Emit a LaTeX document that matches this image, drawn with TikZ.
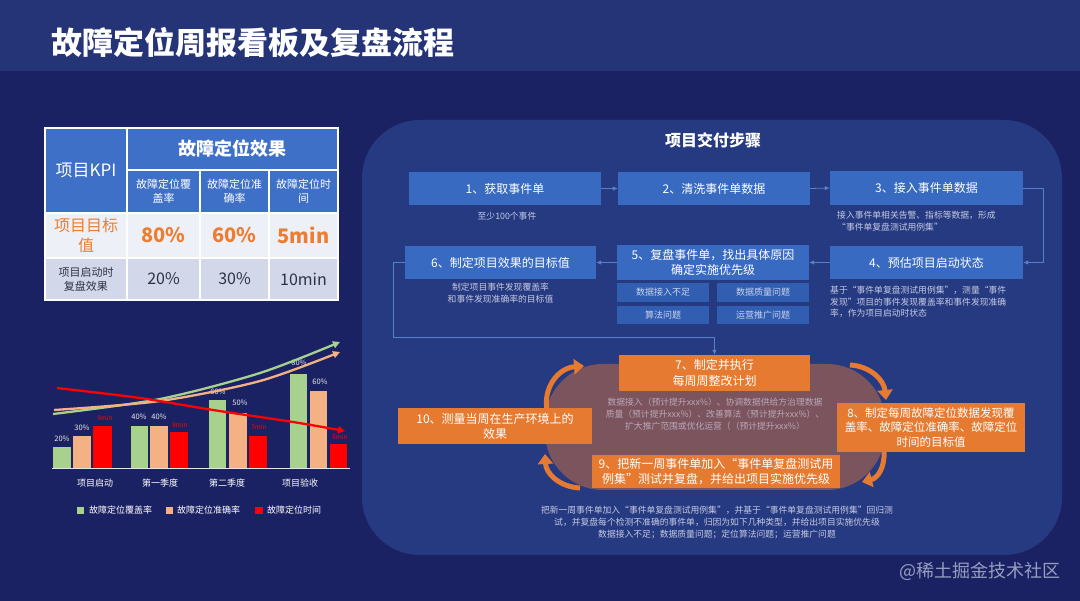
\documentclass[tikz,border=0pt]{standalone}
\usepackage{fontspec}
\setmainfont{Noto Sans CJK SC}
\usetikzlibrary{arrows.meta}
\definecolor{bgc}{RGB}{27,34,100}
\definecolor{band}{RGB}{36,52,118}
\definecolor{panel}{RGB}{38,58,130}
\definecolor{stepblue}{RGB}{56,106,194}
\definecolor{subblue}{RGB}{50,94,178}
\definecolor{subtext}{RGB}{200,212,238}
\definecolor{notegray}{RGB}{196,202,226}
\definecolor{conncol}{RGB}{88,128,200}
\definecolor{orng}{RGB}{230,122,48}
\definecolor{blobc}{RGB}{124,84,94}
\definecolor{blobtext}{RGB}{185,168,182}
\definecolor{thblue}{RGB}{62,112,200}
\definecolor{rowa}{RGB}{238,240,247}
\definecolor{rowb}{RGB}{210,216,234}
\definecolor{kpiorange}{RGB}{237,125,49}
\definecolor{rowtext}{RGB}{45,50,70}
\definecolor{cgreen}{RGB}{169,209,142}
\definecolor{corange}{RGB}{244,177,131}
\definecolor{cred}{RGB}{255,0,0}
\definecolor{wm}{RGB}{150,158,192}
\begin{document}
\begin{tikzpicture}[x=1pt,y=-1pt,
  cell/.style={draw=white, line width=1.2pt, inner sep=0pt, align=center, text=white},
  stepbox/.style={fill=stepblue, text=white, font=\fontsize{12}{15}\selectfont, align=center, inner sep=0pt},
  subbox/.style={fill=subblue, text=subtext, font=\fontsize{9}{11}\selectfont, inner sep=0pt},
  obox/.style={fill=orng, text=white, font=\fontsize{12}{15.5}\selectfont, align=center, inner sep=0pt},
  note/.style={text=notegray, font=\fontsize{8.8}{11.5}\selectfont, align=center, inner sep=0pt},
  conn/.style={draw=conncol, line width=0.8pt, -{Latex[length=5pt,width=4.5pt]}},
  cyc/.style={draw=orng, line width=5pt, -{Triangle[length=10pt,width=15pt]}},
  vlab/.style={text=white!85!gray, font=\fontsize{7.5}{8}\selectfont, inner sep=0pt},
  mlab/.style={text=cred, font=\fontsize{6.5}{7}\selectfont, inner sep=0pt},
  clab/.style={text=white, font=\fontsize{9}{10}\selectfont, inner sep=0pt},
  trend/.style={line width=2.3pt, -{Triangle[length=7pt,width=7pt]}}
]
\useasboundingbox (0,0) rectangle (1080,601);
\fill[bgc] (0,0) rectangle (1080,601);
\fill[band] (0,0) rectangle (1080,71);
\node[anchor=west, text=white, font=\fontsize{31}{31}\selectfont\bfseries, inner sep=0pt] (title) at (51,43) {故障定位周报看板及复盘流程};

% ---------- table ----------
\node[cell, fill=thblue, minimum width=82pt, minimum height=85pt, font=\fontsize{17}{20}\selectfont] (kpi) at (86,170.5) {项目KPI};
\node[cell, fill=thblue, minimum width=211pt, minimum height=42pt, font=\fontsize{18}{20}\selectfont\bfseries] (eff) at (232.5,149) {故障定位效果};
\node[cell, fill=thblue, minimum width=73pt, minimum height=43pt, font=\fontsize{11}{13.5}\selectfont] (h1) at (163.5,191.5) {故障定位覆\\盖率};
\node[cell, fill=thblue, minimum width=69pt, minimum height=43pt, font=\fontsize{11}{13.5}\selectfont] (h2) at (234.5,191.5) {故障定位准\\确率};
\node[cell, fill=thblue, minimum width=69pt, minimum height=43pt, font=\fontsize{11}{13.5}\selectfont] (h3) at (303.5,191.5) {故障定位时\\间};
\node[cell, fill=rowa, text=kpiorange, minimum width=82pt, minimum height=45pt, font=\fontsize{16}{20}\selectfont] (r1) at (86,235.5) {项目目标\\值};
\node[cell, fill=rowa, text=kpiorange, minimum width=73pt, minimum height=45pt, font=\fontsize{20}{22}\selectfont\bfseries] (v11) at (163.5,235.5) {80\%};
\node[cell, fill=rowa, text=kpiorange, minimum width=69pt, minimum height=45pt, font=\fontsize{20}{22}\selectfont\bfseries] (v12) at (234.5,235.5) {60\%};
\node[cell, fill=rowa, text=kpiorange, minimum width=69pt, minimum height=45pt, font=\fontsize{20}{22}\selectfont\bfseries] (v13) at (303.5,235.5) {5min};
\node[cell, fill=rowb, text=rowtext, minimum width=82pt, minimum height=42pt, font=\fontsize{11}{14}\selectfont] (r2) at (86,279) {项目启动时\\复盘效果};
\node[cell, fill=rowb, text=rowtext, minimum width=73pt, minimum height=42pt, font=\fontsize{16}{18}\selectfont] (v21) at (163.5,279) {20\%};
\node[cell, fill=rowb, text=rowtext, minimum width=69pt, minimum height=42pt, font=\fontsize{16}{18}\selectfont] (v22) at (234.5,279) {30\%};
\node[cell, fill=rowb, text=rowtext, minimum width=69pt, minimum height=42pt, font=\fontsize{16}{18}\selectfont] (v23) at (303.5,279) {10min};

% ---------- chart ----------
\fill[cgreen] (53,468) rectangle (71,447);
\fill[corange] (73,468) rectangle (91,436);
\fill[cred] (93,468) rectangle (112,426);
\fill[cgreen] (131,468) rectangle (148,426);
\fill[corange] (150,468) rectangle (168,426);
\fill[cred] (170,468) rectangle (188,432);
\fill[cgreen] (209,468) rectangle (226,400);
\fill[corange] (229,468) rectangle (247,413);
\fill[cred] (249,468) rectangle (267,436);
\fill[cgreen] (290,468) rectangle (307,374);
\fill[corange] (310,468) rectangle (327,391);
\fill[cred] (330,468) rectangle (347,444);
\draw[white!80!gray, line width=1pt] (52,468.5) -- (350,468.5);
\node[vlab] (l1) at (62,439) {20\%};
\node[vlab] (l2) at (82,428) {30\%};
\node[mlab] (l3) at (105,418) {9min};
\node[vlab] (l4) at (139,417) {40\%};
\node[vlab] (l5) at (159,417) {40\%};
\node[mlab] (l6) at (180,425) {8min};
\node[vlab] (l7) at (218,392) {60\%};
\node[vlab] (l8) at (240,403) {50\%};
\node[mlab] (l9) at (259,427) {7min};
\node[vlab] (l10) at (299,363) {80\%};
\node[vlab] (l11) at (320,382) {60\%};
\node[mlab] (l12) at (340,437) {5min};
\draw[trend, draw=cgreen] plot[smooth] coordinates {(53,414) (160,399) (260,373) (340,342)};
\draw[trend, draw=corange] plot[smooth] coordinates {(54,410) (160,401) (260,381) (340,352)};
\draw[trend, draw=cred] plot[smooth] coordinates {(57,388) (140,398) (213,410) (293,422) (345,431)};
\node[clab] (c1) at (95,483) {项目启动};
\node[clab] (c2) at (160,483) {第一季度};
\node[clab] (c3) at (227,483) {第二季度};
\node[clab] (c4) at (300,483) {项目验收};
\fill[cgreen] (77,507) rectangle (84,514);
\node[clab, anchor=west] (lg1) at (89,510.5) {故障定位覆盖率};
\fill[corange] (166,507) rectangle (173,514);
\node[clab, anchor=west] (lg2) at (177,510.5) {故障定位准确率};
\fill[cred] (255,507) rectangle (263,514);
\node[clab, anchor=west] (lg3) at (267,510.5) {故障定位时间};

% ---------- panel ----------
\fill[panel, rounded corners=58pt] (362,120) rectangle (1062,555);
\node[text=white, font=\fontsize{16}{18}\selectfont\bfseries, inner sep=0pt] (ptitle) at (713,140) {项目交付步骤};

\node[stepbox, minimum width=192pt, minimum height=33pt] (b1) at (505,188.5) {1、获取事件单};
\node[stepbox, minimum width=192pt, minimum height=33pt] (b2) at (714,188.5) {2、清洗事件单数据};
\node[stepbox, minimum width=193pt, minimum height=34pt] (b3) at (926.5,188) {3、接入事件单数据};
\node[stepbox, minimum width=193pt, minimum height=33pt] (b4) at (926.5,262.5) {4、预估项目启动状态};
\node[stepbox, minimum width=192pt, minimum height=35pt, font=\fontsize{12}{14.5}\selectfont] (b5) at (713,262.5) {5、复盘事件单，找出具体原因\\确定实施优先级};
\node[stepbox, minimum width=191pt, minimum height=33pt] (b6) at (500.5,262.5) {6、制定项目效果的目标值};
\node[subbox, minimum width=92pt, minimum height=19pt] (s1) at (663,292.5) {数据接入不足};
\node[subbox, minimum width=92pt, minimum height=19pt] (s2) at (763,292.5) {数据质量问题};
\node[subbox, minimum width=92pt, minimum height=18pt] (s3) at (663,315) {算法问题};
\node[subbox, minimum width=92pt, minimum height=18pt] (s4) at (763,315) {运营推广问题};

\node[note] (n1) at (507,216) {至少100个事件};
\node[note, align=left, anchor=north west] (n3) at (837,211) {接入事件单相关告警、指标等数据，形成\\ “事件单复盘测试用例集”};
\node[note, align=left, anchor=north west] (n4) at (830,286) {基于“事件单复盘测试用例集”，测量“事件\\发现”项目的事件发现覆盖率和事件发现准确\\率，作为项目启动时状态};
\node[note, font=\fontsize{8.8}{12}\selectfont] (n6) at (500.5,293) {制定项目事件发现覆盖率\\和事件发现准确率的目标值};

\coordinate (e3) at (1043,188);
\coordinate (k6) at (393,337);
\draw[conn] (b1.east) -- (b2.west);
\draw[conn] (b2.east) -- (b3.west);
\draw[conn] (b3.east) -- (e3) |- (b4.east);
\draw[conn] (b4.west) -- (b5.east);
\draw[conn] (b5.west) -- (b6.east);

% ---------- cycle ----------
\fill[blobc, rounded corners=58pt] (545,364) rectangle (885,490);
\node[obox, minimum width=191pt, minimum height=36pt] (b7) at (714.5,373) {7、制定并执行\\每周周整改计划};
\draw[conn] (b6.west) -| (k6) -- (k6 -| b7.north) -- (b7.north);
\node[obox, minimum width=188pt, minimum height=49pt, font=\fontsize{11.5}{14.5}\selectfont] (b8) at (931,427.5) {8、制定每周故障定位数据发现覆\\盖率、故障定位准确率、故障定位\\时间的目标值};
\node[obox, minimum width=248pt, minimum height=33pt, font=\fontsize{12}{15}\selectfont] (b9) at (716,471.5) {9、把新一周事件单加入“事件单复盘测试用\\例集”测试并复盘，并给出项目实施优先级};
\node[obox, minimum width=194pt, minimum height=36pt, font=\fontsize{12}{15}\selectfont] (b10) at (495,426) {10、测量当周在生产环境上的\\效果};
\node[note, text=blobtext, font=\fontsize{8.8}{12}\selectfont] (n7) at (715,414) {数据接入（预计提升xxx\%）、协调数据供给方治理数据\\质量（预计提升xxx\%）、改善算法（预计提升xxx\%）、\\扩大推广范围或优化运营（（预计提升xxx\%）};

\draw[cyc] (547,410) .. controls (543,388) and (558,368) .. (584,366);
\draw[cyc] (850,365) .. controls (870,366) and (884,380) .. (886,400);
\draw[cyc] (884,451) .. controls (885,467) and (878,478) .. (862,482);
\draw[cyc] (580,488) .. controls (560,487) and (546,474) .. (545,454);

\node[note, font=\fontsize{8.8}{12}\selectfont] (n9) at (717,522) {把新一周事件单加入“事件单复盘测试用例集”，并基于“事件单复盘测试用例集”回归测\\试，并复盘每个检测不准确的事件单，归因为如下几种类型，并给出项目实施优先级\\数据接入不足；数据质量问题；定位算法问题；运营推广问题};

\node[text=wm, font=\fontsize{18}{20}\selectfont, inner sep=0pt] (wmk) at (980,571) {@稀土掘金技术社区};
\end{tikzpicture}
\end{document}
